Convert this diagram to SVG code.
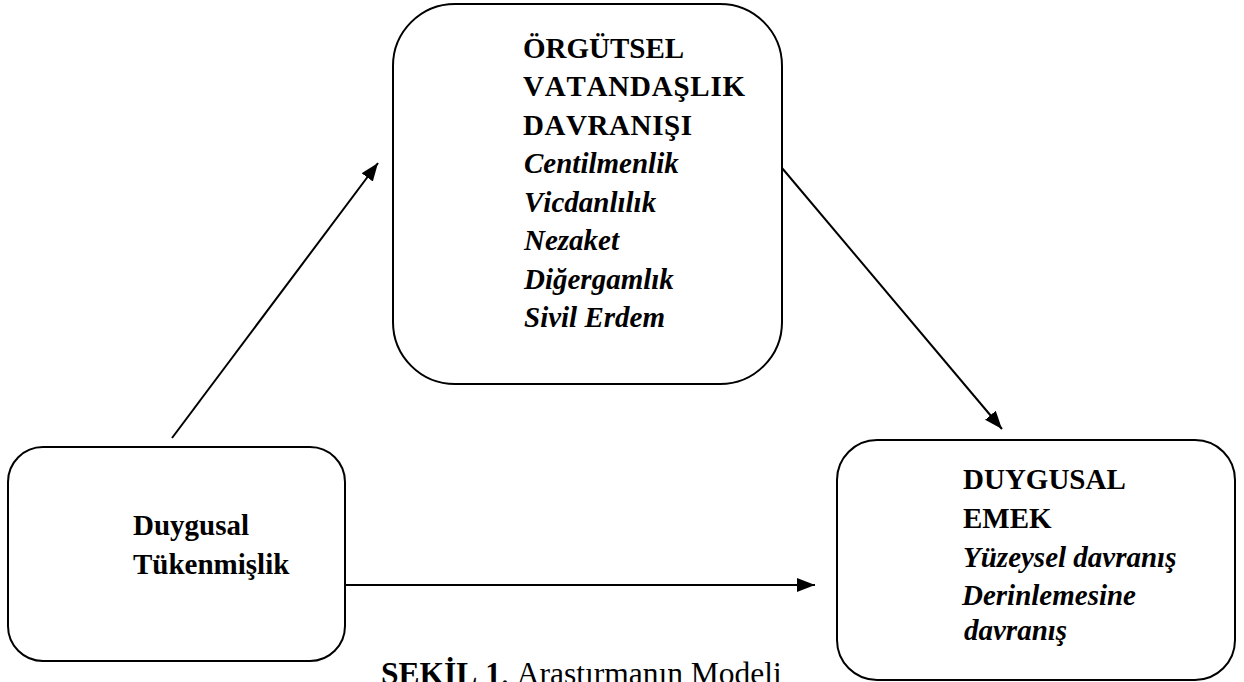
<svg xmlns="http://www.w3.org/2000/svg" width="1244" height="682" viewBox="0 0 1244 682">
<defs>
<style>
.box{fill:#fff;stroke:#000;stroke-width:2}
.t{font-size:29px;fill:#000;font-kerning:none}
.b{font-weight:bold}
.bi{font-weight:bold;font-style:italic}
.con{stroke:#000;stroke-width:2;fill:none;marker-end:url(#ah)}
</style>
<marker id="ah" markerUnits="userSpaceOnUse" markerWidth="20" markerHeight="16" refX="18" refY="7" orient="auto">
<path d="M0,0 L18,7 L0,14 z" fill="#000"/>
</marker>
</defs>
<rect width="1244" height="682" fill="#fff"/>
<g id="connectors">
<line class="con" x1="172" y1="438" x2="378" y2="163"/>
<line class="con" x1="782" y1="168" x2="1002" y2="429"/>
<line class="con" x1="345" y1="585" x2="815" y2="585"/>
</g>
<g font-family="'Liberation Serif', 'DejaVu Serif', serif">
<g id="node-ovd">
<rect class="box" x="393" y="4" width="389" height="380" rx="62"/>
<text class="t b" x="523" y="57.5">ÖRGÜTSEL</text>
<text class="t b" x="523" y="96" textLength="222" lengthAdjust="spacing">VATANDAŞLIK</text>
<text class="t b" x="523" y="134.5" textLength="169" lengthAdjust="spacing">DAVRANIŞI</text>
<text class="t bi" x="524" y="173">Centilmenlik</text>
<text class="t bi" x="524" y="211.5">Vicdanlılık</text>
<text class="t bi" x="524" y="250">Nezaket</text>
<text class="t bi" x="524" y="288.5">Diğergamlık</text>
<text class="t bi" x="524" y="327">Sivil Erdem</text>
</g>
<g id="node-dt">
<rect class="box" x="8" y="447" width="337" height="214" rx="35"/>
<text class="t b" x="133" y="535">Duygusal</text>
<text class="t b" x="133" y="574">Tükenmişlik</text>
</g>
<g id="node-de">
<rect class="box" x="837" y="440" width="398" height="240" rx="40"/>
<text class="t b" x="963" y="489">DUYGUSAL</text>
<text class="t b" x="963" y="528">EMEK</text>
<text class="t bi" x="963" y="567">Yüzeysel davranış</text>
<text class="t bi" x="962" y="605">Derinlemesine</text>
<text class="t bi" x="964" y="640">davranış</text>
</g>
<g id="caption">
<text class="t" x="381" y="684" style="font-size:31.5px"><tspan font-weight="bold">ŞEKİL 1</tspan>. Araştırmanın Modeli</text>
</g>
</g>
</svg>
